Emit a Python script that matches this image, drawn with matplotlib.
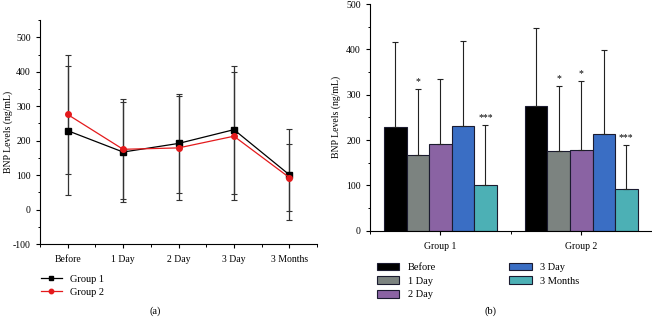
import numpy as np
import matplotlib.pyplot as plt
import matplotlib.ticker as tick

plt.rcParams['font.family'] = ['Liberation Serif', 'DejaVu Serif']
plt.rcParams['font.size'] = 7
plt.rcParams['axes.unicode_minus'] = False

# podaci (ocitano sa slike)
times = ['Before', '1 Day', '2 Day', '3 Day', '3 Months']
groups = ['Group 1', 'Group 2']
g1_mean = [229, 167, 192, 232, 101]
g2_mean = [276, 175, 179, 213, 93]
g1_sd = [188, 146, 143, 186, 132]
g2_sd = [172, 145, 152, 185, 96]
stars_g1 = ['', '*', '', '', '***']
stars_g2 = ['', '*', '*', '', '***']

bar_colors = ['#000000', '#7c8380', '#8a63a3', '#3a6ec4', '#4cb0b5']
edge = '#1b1b30'

fig = plt.figure(figsize=(6.52, 3.19), dpi=100)

# (a) linijski graf
ax1 = fig.add_axes([0.0613, 0.235, 0.425, 0.702])
x = np.arange(len(times))
ax1.errorbar(x, g1_mean, yerr=g1_sd, fmt='none', ecolor='#333333',
             elinewidth=0.9, capsize=2.5, capthick=0.8)
ax1.errorbar(x, g2_mean, yerr=g2_sd, fmt='none', ecolor='#333333',
             elinewidth=0.9, capsize=2.5, capthick=0.8)
ax1.plot(x, g1_mean, 's-', color='black', ms=4, lw=0.9, label='Group 1')
ax1.plot(x, g2_mean, 'o-', color='#e41a1c', ms=4, lw=0.9, label='Group 2')
ax1.set_xlim(-0.5, 4.5)
ax1.set_ylim(-100, 550)
ax1.set_xticks(x)
ax1.set_xticklabels(times)
ax1.xaxis.set_minor_locator(tick.MultipleLocator(0.5))
ax1.yaxis.set_major_locator(tick.FixedLocator([-100, 0, 100, 200, 300, 400, 500]))
ax1.yaxis.set_minor_locator(tick.MultipleLocator(50))
ax1.set_ylabel('BNP Levels (ng/mL)')
ax1.yaxis.set_label_coords(-0.098, 0.5)
for s in ['top', 'right']:
    ax1.spines[s].set_visible(False)
ax1.tick_params(which='major', length=3, width=0.8)
ax1.tick_params(which='minor', length=1.8, width=0.7)
ax1.tick_params(axis='x', pad=5)
ax1.legend(loc='upper left', bbox_to_anchor=(-0.03, -0.095), frameon=False,
           handlelength=2.0, labelspacing=0.35, fontsize=7.5, markerscale=0.8)
fig.text(0.238, 0.018, '(a)', ha='center', fontsize=7.5)

# (b) stupcasti graf
ax2 = fig.add_axes([0.5675, 0.277, 0.432, 0.71])
w = 0.16
gx = np.arange(len(groups))
for i, t in enumerate(times):
    vals = [g1_mean[i], g2_mean[i]]
    errs = [g1_sd[i], g2_sd[i]]
    pos = gx - 2 * w + i * w
    ax2.bar(pos, vals, w, color=bar_colors[i], edgecolor=edge, lw=0.8, label=t)
    ax2.errorbar(pos, vals, yerr=[[0, 0], errs], fmt='none', ecolor='#222222',
                 elinewidth=0.8, capsize=2.5, capthick=0.8)
    for j, st in enumerate([stars_g1[i], stars_g2[i]]):
        if st:
            ax2.text(pos[j], vals[j] + errs[j] + 6, st, ha='center', va='bottom', fontsize=7)
ax2.set_xlim(-0.5, 1.5)
ax2.set_ylim(0, 500)
ax2.set_xticks(gx)
ax2.set_xticklabels(groups)
ax2.xaxis.set_minor_locator(tick.MultipleLocator(0.5))
ax2.yaxis.set_major_locator(tick.MultipleLocator(100))
ax2.yaxis.set_minor_locator(tick.MultipleLocator(50))
ax2.set_ylabel('BNP Levels (ng/mL)', labelpad=4)
for s in ['top', 'right']:
    ax2.spines[s].set_visible(False)
ax2.tick_params(which='major', length=3, width=0.8)
ax2.tick_params(which='minor', length=1.8, width=0.7)
ax2.tick_params(axis='x', pad=5)
ax2.legend(loc='upper left', bbox_to_anchor=(-0.01, -0.1), frameon=False, ncol=2,
           handlelength=2.2, handleheight=0.75, labelspacing=0.4, columnspacing=7,
           fontsize=7.5)
fig.text(0.752, 0.018, '(b)', ha='center', fontsize=7.5)

fig.savefig('out.png', dpi=100)
